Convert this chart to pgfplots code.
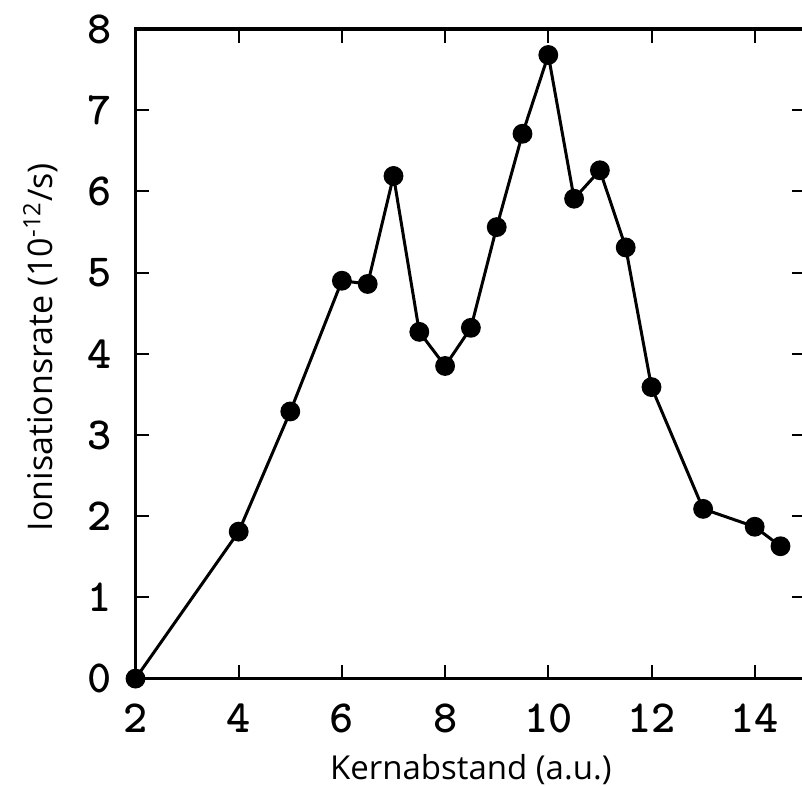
\documentclass[border=0pt]{standalone}
\usepackage{fontspec}
\setmainfont{Open Sans}
\usepackage{pgfplots}
\pgfplotsset{compat=1.18}
\begin{document}
\begin{tikzpicture}
\begin{axis}[
  name=ax,
  scale only axis,
  width=335.4pt, height=324.8pt,
  xmin=2, xmax=15, ymin=0, ymax=8,
  xtick={2,4,6,8,10,12,14}, ytick={0,1,2,3,4,5,6,7,8},
  axis line style={line width=1.8pt},
  major tick length=7pt,
  every tick/.style={black, line width=1pt},
  tick align=inside,
  clip=false,
  /pgf/number format/assume math mode=true,
  ticklabel style={font=\fontsize{23}{23}\selectfont\ttfamily\bfseries, inner sep=0pt},
  xticklabel style={yshift=-12.3pt},
  yticklabel style={xshift=-11.5pt},
  xlabel={Kernabstand (a.u.)},
  ylabel={Ionisationsrate (10\textsuperscript{-12}/s)},
  xlabel style={font=\fontsize{16.5}{16.5}\selectfont, at={([yshift=-50.35pt]axis description cs:0.5,0)}, anchor=base},
  ylabel style={font=\fontsize{17}{17}\selectfont, at={([xshift=-41.25pt,yshift=3.3pt]axis description cs:0,0.5)}, anchor=base},
]
\addplot[black, line width=1.5pt, mark=*, mark size=4.2pt, mark options={solid, fill=black}] coordinates {
  (2,0) (4,1.81) (5,3.29) (6,4.90) (6.5,4.86) (7,6.19) (7.5,4.27) (8,3.85)
  (8.5,4.32) (9,5.56) (9.5,6.71) (10,7.68) (10.5,5.91) (11,6.26) (11.5,5.31)
  (12,3.59) (13,2.09) (14,1.87) (14.5,1.63)
};
\end{axis}
\pgfresetboundingbox
\path[use as bounding box] ([shift={(-67.75pt,-53.35pt)}]ax.south west) rectangle ([shift={(333.25pt,14.5pt)}]ax.north west);
\end{tikzpicture}
\end{document}
